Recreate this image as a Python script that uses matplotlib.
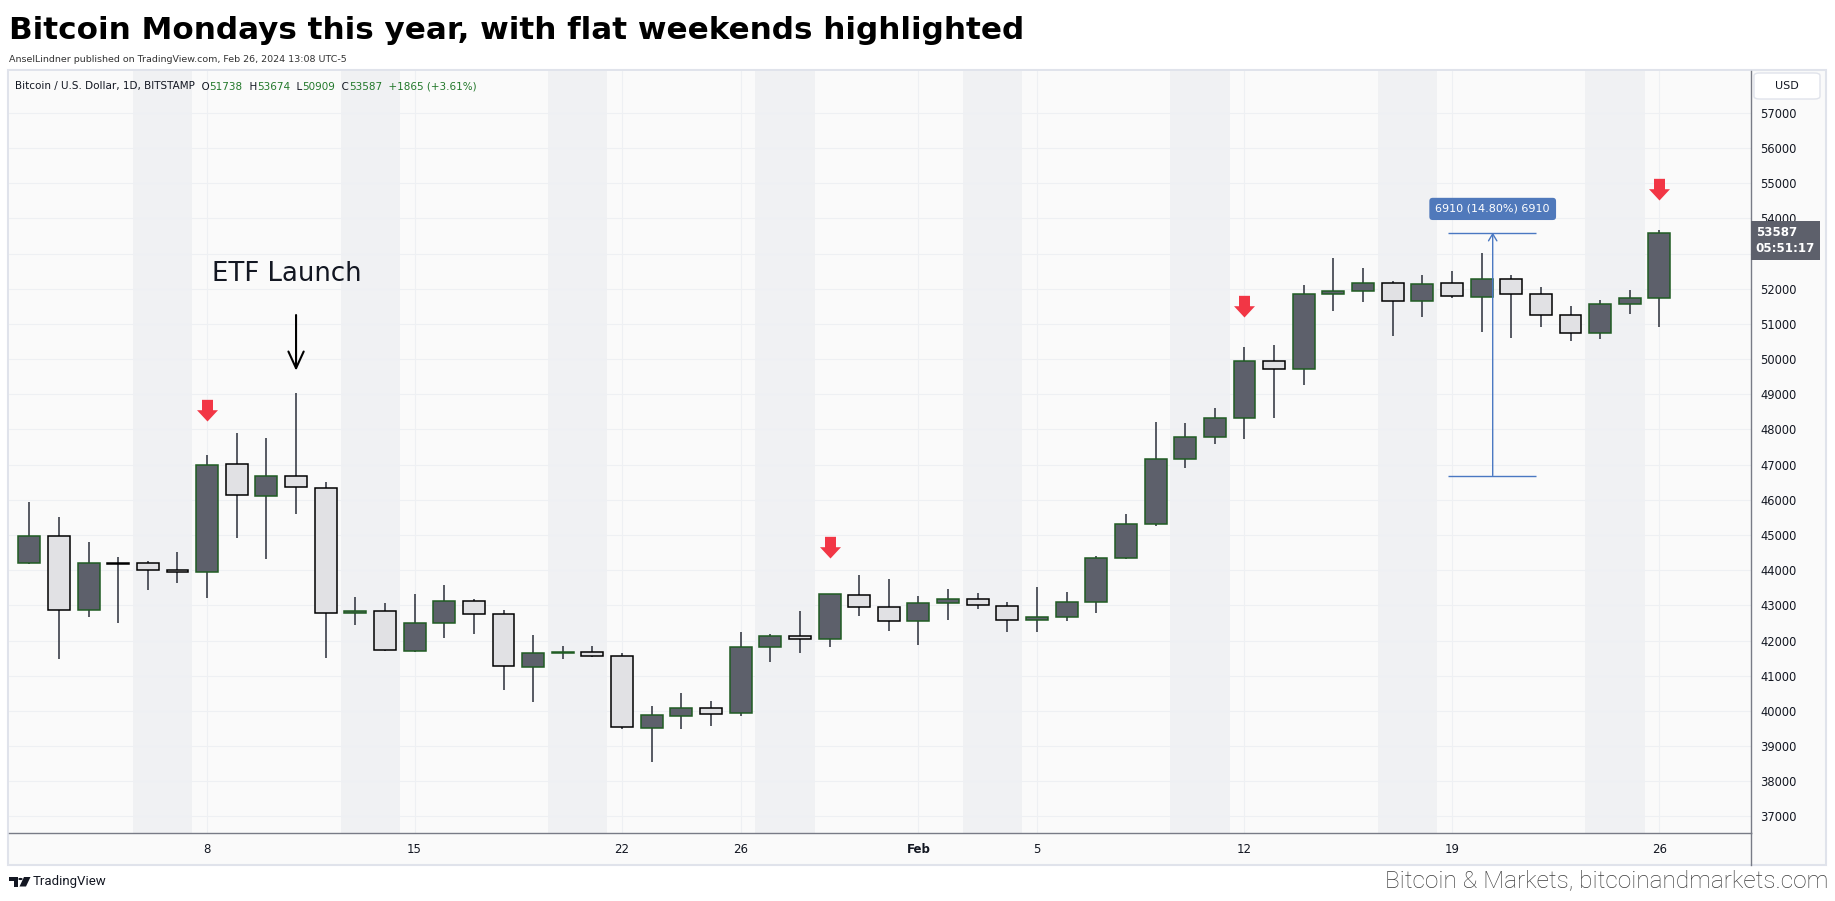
import matplotlib
matplotlib.use("Agg")
import matplotlib.pyplot as plt
import matplotlib.dates as mdates
from matplotlib.path import Path
from matplotlib.patches import Rectangle, FancyBboxPatch, Polygon, Circle
from matplotlib.lines import Line2D
from matplotlib import font_manager
import numpy as np
import pandas as pd

# daily BTC/USD candles, Bitstamp, Jan 2 - Feb 26 2024
dates = pd.date_range("2024-01-02", "2024-02-26", freq="D")
opens = [44195, 44962, 42868, 44200, 44195, 43996, 43939, 47009, 46100, 46668,
         46327, 42773, 42830, 41693, 42489, 43124, 42744, 41238, 41636, 41664,
         41550, 39503, 39844, 40072, 39939, 41806, 42119, 42034, 43285, 42943,
         42546, 43057, 43171, 42972, 42574, 42659, 43086, 44337, 45304, 47152,
         47777, 48317, 49938, 49711, 51843, 51928, 52156, 51644, 52156, 51758,
         52270, 51843, 51246, 50734, 51559, 51738]
highs = [45938, 45512, 44801, 44375, 44261, 44517, 47265, 47900, 47758, 49038,
         46507, 43237, 43067, 43323, 43579, 43180, 42868, 42157, 41844, 41844,
         41636, 40138, 40508, 40280, 42233, 42176, 42849, 43330, 43863, 43749,
         43266, 43465, 43351, 43086, 43521, 43379, 44403, 45597, 48213, 48185,
         48611, 50346, 50402, 52108, 52870, 52582, 52213, 52384, 52497, 53009,
         52384, 52043, 51521, 51673, 51957, 53674]
lows = [44180, 41465, 42678, 42507, 43446, 43645, 43218, 44924, 44327, 45607,
        41512, 42451, 41700, 41680, 42081, 42195, 40602, 40261, 41465, 41521,
        39475, 38536, 39475, 39560, 39844, 41399, 41654, 41825, 42706, 42280,
        41882, 42574, 42887, 42252, 42252, 42546, 42773, 44330, 45266, 46915,
        47597, 47739, 48336, 49275, 51380, 51634, 50668, 51208, 51729, 50781,
        50611, 50924, 50526, 50582, 51293, 50909]
closes = [44962, 42868, 44195, 44180, 43996, 43939, 46981, 46128, 46668, 46356,
          42773, 42830, 41721, 42489, 43124, 42744, 41275, 41636, 41664, 41550,
          39532, 39873, 40072, 39901, 41806, 42119, 42034, 43313, 42943, 42546,
          43057, 43171, 43000, 42574, 42659, 43086, 44337, 45304, 47152, 47777,
          48317, 49938, 49711, 51843, 51928, 52156, 51644, 52127, 51786, 52270,
          51843, 51246, 50734, 51559, 51729, 53587]

monday_dates = ["2024-01-08", "2024-01-29", "2024-02-12", "2024-02-26"]
monday_arrow_tips = [48250, 44355, 51207, 54525]

tick_dates = ["2024-01-08", "2024-01-15", "2024-01-22", "2024-01-26", "2024-02-01",
              "2024-02-05", "2024-02-12", "2024-02-19", "2024-02-26"]
tick_labels = ["8", "15", "22", "26", "Feb", "5", "12", "19", "26"]
price_ticks = [37000, 38000, 39000, 40000, 41000, 42000, 43000, 44000, 45000, 46000, 47000,
               48000, 49000, 50000, 51000, 52000, 53000, 54000, 55000, 56000, 57000]
# 53000 sits under the last-price label, so it has no text
price_labels = ["37000", "38000", "39000", "40000", "41000", "42000", "43000", "44000",
                "45000", "46000", "47000", "48000", "49000", "50000", "51000", "52000",
                "", "54000", "55000", "56000", "57000"]

etf_date = "2024-01-11"
etf_arrow = [51255, 49672]
measure_low, measure_high = 46690, 53600
measure_times = ["2024-02-18 21:00", "2024-02-20 09:00", "2024-02-21 20:00"]
measure_label = "6910 (14.80%) 6910"

title = "Bitcoin Mondays this year, with flat weekends highlighted"
subtitle = "AnselLindner published on TradingView.com, Feb 26, 2024 13:08 UTC-5"

W, H = 1835, 901
def fx(px):
    return px / W
def fy(py):
    return 1 - py / H

available = {f.name for f in font_manager.fontManager.ttflist}
narrow = "Liberation Sans Narrow" if "Liberation Sans Narrow" in available else "DejaVu Sans"

fig = plt.figure(figsize=(W / 100, H / 100), dpi=100)
fig.patch.set_facecolor("white")

# chart panel
fig.patches.append(Rectangle((fx(8), fy(865)), fx(1826) - fx(8), fy(70) - fy(865),
                             transform=fig.transFigure, facecolor="#fafafa",
                             edgecolor="#e0e3eb", lw=1.5, zorder=-5))

ax = fig.add_axes([fx(9), fy(833), fx(1751) - fx(9), fy(71) - fy(833)])
ax.set_facecolor("#fafafa")
ax.set_zorder(1)

x = mdates.date2num(dates)
o = np.array(opens); h = np.array(highs); l = np.array(lows); c = np.array(closes)
up = c > o

# weekend shading
for sat in dates[dates.dayofweek == 5]:
    xs = mdates.date2num(sat)
    ax.axvspan(xs - 0.5, xs + 1.5, color="#f0f1f3", lw=0, zorder=0.2)

ax.vlines(x, l, h, color="#2a2e39", lw=1.1, zorder=2)
ax.bar(x, np.maximum(np.abs(c - o), 12), bottom=np.minimum(o, c), width=0.74,
       color=np.where(up, "#5d606b", "#e1e1e4"),
       edgecolor=np.where(up, "#1f5c22", "#000000"), linewidth=1.1, zorder=3)

# red arrows over Mondays
arrow = Path([(0, 0), (-10.5, 11.3), (-5.5, 11.3), (-5.5, 21.7), (5.5, 21.7),
              (5.5, 11.3), (10.5, 11.3), (0, 0)])
ax.plot(mdates.date2num(pd.to_datetime(monday_dates)), monday_arrow_tips, ls="none",
        marker=arrow, markersize=31.2, color="#f23645", mew=0, zorder=4)

# ETF launch note
xe = mdates.date2num(pd.Timestamp(etf_date))
ax.text(mdates.date2num(pd.Timestamp("2024-01-08")) + 0.15, 52231, "ETF Launch",
        fontsize=18.7, color="#131722", va="baseline", ha="left")
ax.annotate("", xy=(xe, etf_arrow[1]), xytext=(xe, etf_arrow[0]),
            arrowprops=dict(arrowstyle="->,head_length=1.2,head_width=0.55",
                            mutation_scale=10, lw=1.5, color="black",
                            shrinkA=0, shrinkB=0))

# price range measure
mx = mdates.date2num(pd.to_datetime(measure_times))
mcol = "#4a78c2"
ax.hlines([measure_low, measure_high], mx[0], mx[2], color=mcol, lw=1, zorder=4)
ax.annotate("", xy=(mx[1], measure_high), xytext=(mx[1], measure_low),
            arrowprops=dict(arrowstyle="->,head_length=0.5,head_width=0.3",
                            mutation_scale=10, lw=1, color=mcol,
                            shrinkA=0, shrinkB=0), zorder=4)
ax.annotate(measure_label, xy=(mx[1], measure_high), xytext=(0, 17),
            textcoords="offset points", ha="center", va="center",
            color="white", fontsize=8,
            bbox=dict(boxstyle="round,pad=0.55,rounding_size=0.3", fc="#5079bb", ec="none"),
            zorder=5)

# last price label
ax.annotate(f"{closes[-1]}\n05:51:17", xy=(1.0, closes[-1]),
            xycoords=("axes fraction", "data"), xytext=(3.5, -5.6),
            textcoords="offset points", ha="left", va="center",
            color="white", fontsize=8.6, fontweight="bold", linespacing=1.3,
            bbox=dict(boxstyle="square,pad=0.42", fc="#5d606b", ec="none"),
            annotation_clip=False, zorder=10)

ax.set_xlim(x[0] - 0.685, x[0] + 58.09)
ax.set_ylim(36527, 58193)

ax.set_xticks(mdates.date2num(pd.to_datetime(tick_dates)))
ax.set_xticklabels(tick_labels)
for t in ax.get_xticklabels():
    if t.get_text() == "Feb":
        t.set_fontweight("bold")
ax.set_yticks(price_ticks)
ax.set_yticklabels(price_labels)
ax.yaxis.tick_right()
ax.tick_params(axis="x", length=0, pad=7, labelsize=8.5, labelcolor="#131722")
ax.tick_params(axis="y", length=0, pad=6.5, labelsize=8.3, labelcolor="#131722")
ax.grid(True, color="#eef0f3", lw=0.8)
ax.set_axisbelow(True)
for s in ["top", "left"]:
    ax.spines[s].set_visible(False)
for s in ["bottom", "right"]:
    ax.spines[s].set_color("#787b86")
    ax.spines[s].set_linewidth(1)
fig.add_artist(Line2D([fx(1751), fx(1751)], [fy(833), fy(865)], color="#787b86", lw=1))

# USD box
fig.add_artist(FancyBboxPatch((fx(1754), fy(99)), fx(1820) - fx(1754), fy(73) - fy(99),
                              boxstyle="round,pad=0,rounding_size=0.003",
                              transform=fig.transFigure, fc="white", ec="#e0e3eb", lw=1,
                              zorder=3))
fig.text(fx(1787), fy(86), "USD", ha="center", va="center", fontsize=8, color="#131722",
         zorder=4)

# titles
fig.text(fx(9), fy(39.3), title, fontsize=22.3, fontweight="bold", family="DejaVu Sans",
         va="baseline", color="black")
fig.text(fx(9), fy(62), subtitle, fontsize=6.8, family=narrow, va="baseline", color="#333333")

# legend line with OHLC
green = "#22782a"
segments = [("Bitcoin / U.S. Dollar, 1D, BITSTAMP", "#131722"), ("  O", "#131722"),
            ("51738", green), ("  H", "#131722"), ("53674", green), ("  L", "#131722"),
            ("50909", green), ("  C", "#131722"), ("53587", green),
            ("  +1865 (+3.61%)", green)]
renderer = fig.canvas.get_renderer()
cx = fx(15)
for txt, col in segments:
    t = fig.text(cx, fy(89.5), txt, fontsize=7.5, family=narrow, color=col, va="baseline",
                 zorder=4)
    bb = t.get_window_extent(renderer)
    cx = bb.x1 / W

# footer
fig.patches.append(Polygon([(fx(9.3), fy(877)), (fx(17.5), fy(877)), (fx(17.5), fy(886.5)),
                            (fx(13.5), fy(886.5)), (fx(13.5), fy(880.5)), (fx(9.3), fy(880.5))],
                           closed=True, transform=fig.transFigure, fc="#131722", ec="none"))
fig.patches.append(Circle((fx(20.5), fy(879)), 0.0012, transform=fig.transFigure,
                          fc="#131722", ec="none"))
fig.patches.append(Polygon([(fx(24), fy(877)), (fx(30.5), fy(877)), (fx(26), fy(886.5)),
                            (fx(19.5), fy(886.5))], closed=True,
                           transform=fig.transFigure, fc="#131722", ec="none"))
fig.text(fx(33), fy(882), "TradingView", fontsize=9.5, family="Roboto", va="center",
         color="#131722")
fig.text(fx(1828), fy(881), "Bitcoin & Markets, bitcoinandmarkets.com", ha="right",
         va="center", fontsize=17.6, family="Roboto", fontweight="light", color="#3c3c3c")

fig.savefig("out.png", dpi=100, facecolor="white")
